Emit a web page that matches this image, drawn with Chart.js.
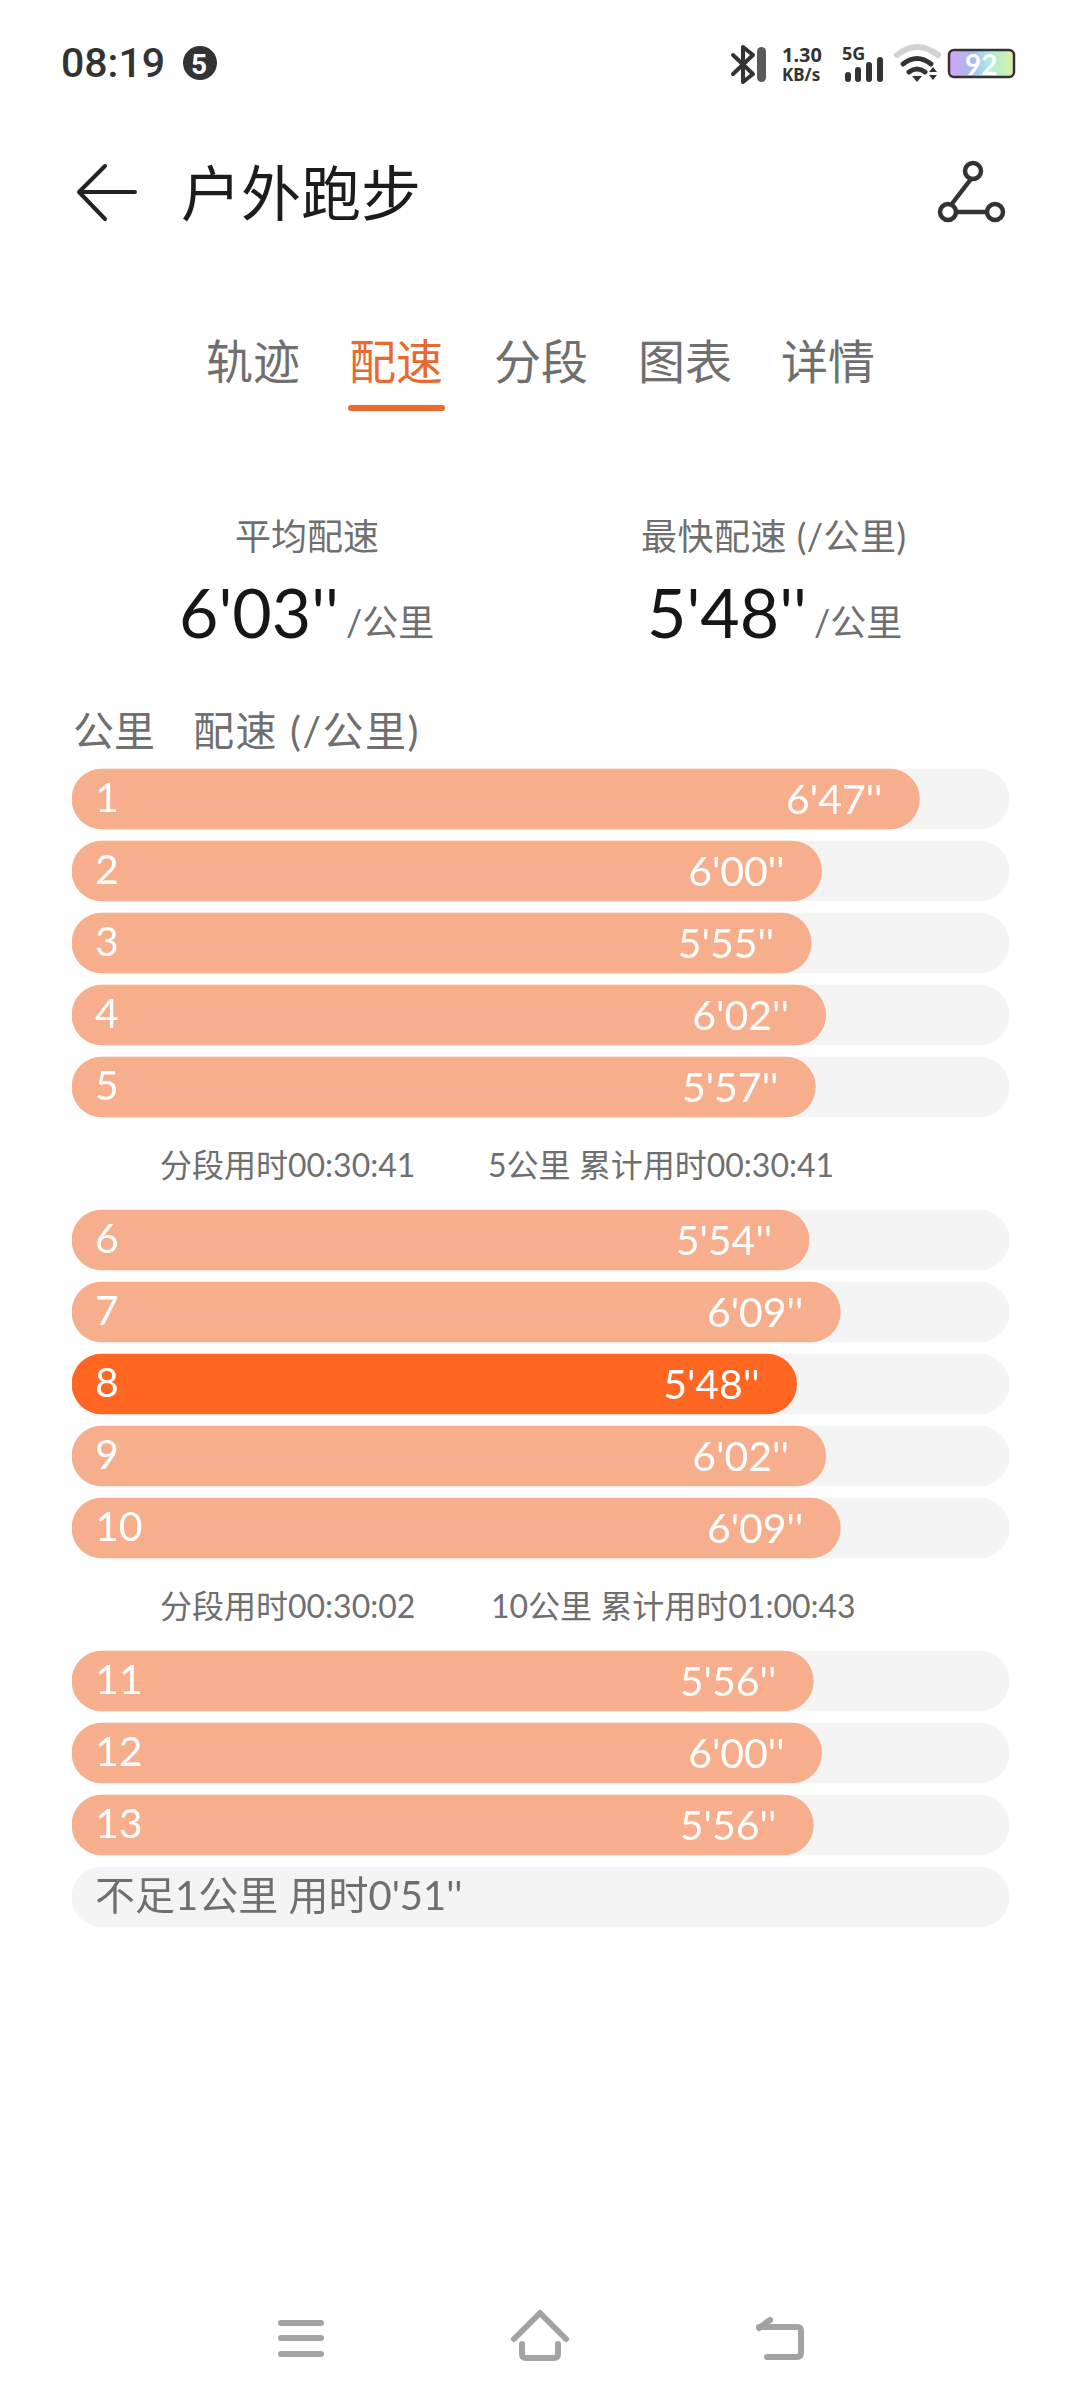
<!DOCTYPE html>
<html lang="zh">
<head>
<meta charset="utf-8">
<title>户外跑步</title>
<script src="https://cdn.jsdelivr.net/npm/chart.js@4/dist/chart.umd.min.js"></script>
<style>
  html, body { margin: 0; padding: 0; background: #fff; }
  #page { position: relative; width: 1080px; height: 2400px; overflow: hidden;
    font-family: Lato, "Noto Sans CJK SC", sans-serif; color: #6f6f6f; }
  .t { position: absolute; line-height: 1; white-space: nowrap; transform: translateY(-50%); }
  canvas { position: absolute; left: 0; }
  svg { position: absolute; left: 0; top: 0; }
</style>
</head>
<body>
<div id="page">
  <svg width="1080" height="2400" fill="none">
    <defs>
      <linearGradient id="batt" x1="0" x2="1" y1="0" y2="0">
        <stop offset="0" stop-color="#d3a6ef"/><stop offset=".35" stop-color="#a6b8f5"/>
        <stop offset=".6" stop-color="#a8ecdf"/><stop offset="1" stop-color="#ddf0a0"/>
      </linearGradient>
    </defs>
    <!-- status bar -->
    <circle cx="200" cy="63" r="17" fill="#333"/>
    <path d="M733 55l20 19-10 8V47l10 8-20 19" stroke="#333" stroke-width="4" stroke-linejoin="round" stroke-linecap="round"/>
    <rect x="757" y="47" width="9" height="35" rx="4.5" fill="#5a5a5a"/>
    <g fill="#333">
      <rect x="845" y="72" width="6" height="10" rx="3"/><rect x="855" y="67" width="6" height="15" rx="3"/>
      <rect x="866" y="62" width="6" height="20" rx="3"/><rect x="877" y="57" width="6" height="25" rx="3"/>
      <path d="M912 76h10l-5 6zM929 72l4-5 4 5zM929 75h8l-4 5z"/>
    </g>
    <path d="M897 55q20-16 41 0" stroke="#d2d2d2" stroke-width="6" stroke-linecap="round"/>
    <path d="M903 64q14-11 28 0M909 72q8-6 16 0" stroke="#333" stroke-width="5" stroke-linecap="round"/>
    <rect x="949" y="50" width="65" height="27" rx="5" fill="url(#batt)" stroke="#333" stroke-width="2.5"/>
    <!-- title bar icons -->
    <path d="M105 166L79 192l26 27M79 192h56" stroke="#222" stroke-width="4" stroke-linecap="round" stroke-linejoin="round"/>
    <g stroke="#333" stroke-width="4.5" fill="#fff">
      <path d="M971 179L951 205M956 212h31"/>
      <circle cx="973" cy="171" r="8"/><circle cx="948" cy="212" r="8"/><circle cx="995" cy="212" r="8"/>
    </g>
    <!-- tab underline -->
    <rect x="348" y="405" width="97" height="6" rx="3" fill="#e96a2f"/>
    <!-- nav bar -->
    <g stroke="#a3a3a3" stroke-width="6" stroke-linecap="round" stroke-linejoin="round">
      <path d="M281 2323h40M281 2338h40M281 2354h40"/>
      <path d="M514 2339l26-26 26 26M522 2344v10q0 4 4 4h28q4 0 4-4v-10"/>
      <path d="M759 2328l11-8M759 2327h38q4 0 4 4v22q0 4-4 4h-30"/>
    </g>
  </svg>

  <div class="t" style="left:61px;top:63px;font:500 41px Roboto;color:#333">08:19</div>
  <div class="t" style="left:191px;top:64px;font:700 28px Roboto;color:#fff">5</div>
  <div class="t" style="left:782px;top:54px;font:700 20px 'Noto Sans';color:#333">1.30</div>
  <div class="t" style="left:782px;top:74px;font:700 17px 'Noto Sans';color:#333">KB/s</div>
  <div class="t" style="left:842px;top:53px;font:700 18px 'Noto Sans';color:#333">5G</div>
  <div class="t" style="left:965px;top:64px;font:700 28px Lato;color:#fff">92</div>

  <div class="t" style="left:181px;top:193px;font-size:60px;color:#1c1c1c">户外跑步</div>

  <div class="t" style="left:206px;top:361px;font-size:47px">轨迹</div>
  <div class="t" style="left:349px;top:361px;font-size:47px;color:#e96a2f">配速</div>
  <div class="t" style="left:494px;top:361px;font-size:47px">分段</div>
  <div class="t" style="left:638px;top:361px;font-size:47px">图表</div>
  <div class="t" style="left:781px;top:361px;font-size:47px">详情</div>

  <div class="t" style="left:235px;top:536px;font-size:36px">平均配速</div>
  <div class="t" style="left:641px;top:536px;font-size:36px;letter-spacing:.5px">最快配速 (/公里)</div>
  <div class="t" style="left:179px;top:612px;font-size:68px;color:#161616">6'03''</div>
  <div class="t" style="left:346px;top:622px;font-size:36px">/公里</div>
  <div class="t" style="left:647px;top:612px;font-size:68px;color:#161616">5'48''</div>
  <div class="t" style="left:814px;top:622px;font-size:36px">/公里</div>

  <div class="t" style="left:73px;top:730px;font-size:41px">公里</div>
  <div class="t" style="left:193px;top:730px;font-size:41px;letter-spacing:1.5px">配速 (/公里)</div>

  <canvas id="groupA" width="1080" height="360" style="top:763px"></canvas>
  <div class="t" style="left:160px;top:1165px;font-size:32px">分段用时00:30:41</div>
  <div class="t" style="left:488px;top:1165px;font-size:32px">5公里 累计用时00:30:41</div>
  <canvas id="groupB" width="1080" height="360" style="top:1204px"></canvas>
  <div class="t" style="left:160px;top:1606px;font-size:32px">分段用时00:30:02</div>
  <div class="t" style="left:491px;top:1606px;font-size:32px">10公里 累计用时01:00:43</div>
  <canvas id="groupC" width="1080" height="288" style="top:1645px"></canvas>
</div>

<script>
// pace per km, in seconds
const kmA = ['1', '2', '3', '4', '5'];
const paceA = [407, 360, 355, 362, 357];
const kmB = ['6', '7', '8', '9', '10'];
const paceB = [354, 369, 348, 362, 369];
// last row is the leftover distance, it only has the empty track
const kmC = ['11', '12', '13', "不足1公里 用时0'51''"];
const paceC = [356, 360, 356, null];

const axisMax = 450;
const fastest = Math.min(...paceA, ...paceB, ...paceC.filter(v => v !== null));

const PALE = '#f7ae8d', HOT = '#ff6621', TRACK = '#f4f4f4', FONT = 'Lato, "Noto Sans CJK SC", sans-serif';

function fmtPace(sec) {
  const s = sec % 60;
  return Math.floor(sec / 60) + "'" + (s < 10 ? '0' : '') + s + "''";
}

// draws 6'47'' inside the right end of each bar
const paceLabels = {
  id: 'paceLabels',
  afterDatasetsDraw(chart) {
    const ctx = chart.ctx, vals = chart.data.datasets[0].data;
    ctx.save();
    ctx.font = '41px ' + FONT;
    ctx.fillStyle = '#fff';
    ctx.textAlign = 'right';
    ctx.textBaseline = 'middle';
    chart.getDatasetMeta(0).data.forEach((bar, i) => {
      if (vals[i] !== null) ctx.fillText(fmtPace(vals[i]), bar.x - 37, bar.y + 2);
    });
    ctx.restore();
  }
};

function rowChart(id, labels, paces) {
  return new Chart(document.getElementById(id), {
    type: 'bar',
    plugins: [paceLabels],
    data: {
      labels,
      datasets: [
        { label: '配速', data: paces, backgroundColor: c => c.raw === fastest ? HOT : PALE },
        { label: '底', data: labels.map(() => axisMax), backgroundColor: TRACK }
      ]
    },
    options: {
      indexAxis: 'y',
      responsive: false,
      animation: false,
      layout: { padding: { left: 72, right: 71, top: 0, bottom: 0 } },
      datasets: { bar: { grouped: false, barThickness: 60, borderRadius: 30, borderSkipped: false } },
      plugins: { legend: { display: false }, tooltip: { enabled: false } },
      scales: {
        x: { display: false, min: 0, max: axisMax },
        y: {
          // labels sit inside the bars, so the axis takes no room
          afterFit(scale) { scale.width = 0; scale.paddingTop = 0; scale.paddingBottom = 0; },
          grid: { display: false },
          border: { display: false },
          ticks: {
            mirror: true, z: 1, padding: 23, autoSkip: false,
            color: c => paces[c.index] === null ? '#6f6f6f' : '#fff',
            font: c => ({ family: FONT, size: paces[c.index] === null ? 40 : 41 })
          }
        }
      }
    }
  });
}

rowChart('groupA', kmA, paceA);
rowChart('groupB', kmB, paceB);
rowChart('groupC', kmC, paceC);
</script>
</body>
</html>
